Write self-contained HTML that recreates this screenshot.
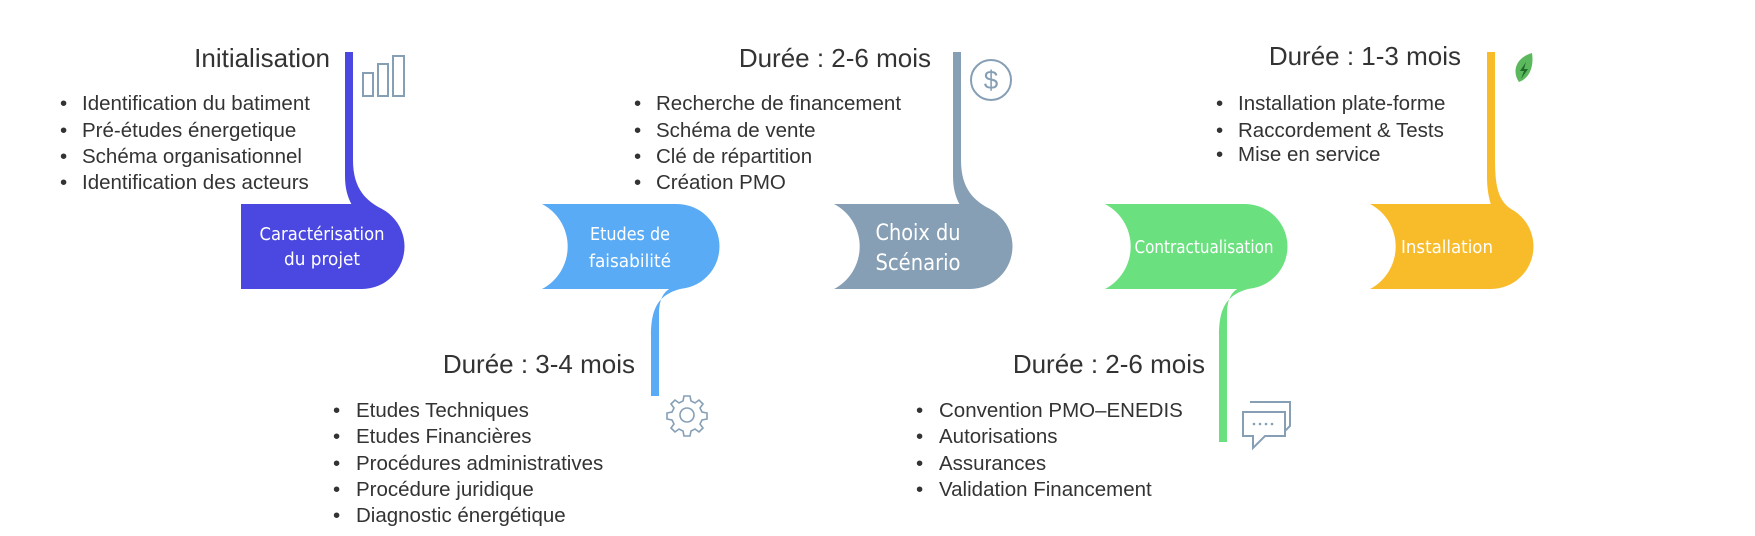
<!DOCTYPE html>
<html><head><meta charset="utf-8"><style>
html,body{margin:0;padding:0;background:#fff;}
svg{display:block;}
.t{font-family:"Liberation Sans",Arial,sans-serif;fill:#333;}
.h{font-size:26px;}
.b{font-size:20.5px;}
.c{font-family:"Liberation Sans Narrow","DejaVu Sans Condensed","Liberation Sans",sans-serif;fill:#fff;}
</style></head><body>
<svg width="1755" height="536" viewBox="0 0 1755 536" xmlns="http://www.w3.org/2000/svg">
<!-- connectors (filled flares) -->
<path transform="translate(349,0)" d="M-4,52 H4 V160 C4,190 18,201 33,209 L33,225 L20,225 C6,212 -4,200 -4,176 Z" fill="#4a48e0"/>
<path transform="translate(957,0)" d="M-4,52 H4 V160 C4,190 18,201 33,209 L33,225 L20,225 C6,212 -4,200 -4,176 Z" fill="#869fb5"/>
<path transform="translate(1491,0)" d="M-4,52 H4 V160 C4,188 8,201 20,209 L20,225 L10,225 C2,212 -4,200 -4,176 Z" fill="#f8bb2a"/>
<path transform="translate(655,0)" d="M-4,396 V336 C-4,305 5,292 34,287 L34,275 L16,275 L16,288 C8,292 4,300 4,314 V396 Z" fill="#5aabf5"/>
<path transform="translate(1223,0)" d="M-4,442 V336 C-4,305 5,292 34,287 L34,275 L16,275 L16,288 C8,292 4,300 4,314 V442 Z" fill="#6ae07e"/>
<!-- shapes -->
<path d="M241,204 H362 A42.5,42.5 0 0 1 362,289 H241 Z" fill="#4a48e0"/>
<path d="M542,204 H677 A42.5,42.5 0 0 1 677,289 H542 A48,48 0 0 0 542,204 Z" fill="#5aabf5"/>
<path d="M834,204 H970 A42.5,42.5 0 0 1 970,289 H834 A48,48 0 0 0 834,204 Z" fill="#869fb5"/>
<path d="M1105,204 H1245 A42.5,42.5 0 0 1 1245,289 H1105 A48,48 0 0 0 1105,204 Z" fill="#6ae07e"/>
<path d="M1370,204 H1491 A42.5,42.5 0 0 1 1491,289 H1370 A48,48 0 0 0 1370,204 Z" fill="#f8bb2a"/>
<!-- shape labels -->
<g class="c" text-anchor="middle">
<text x="322" y="240" font-size="18" textLength="125" lengthAdjust="spacingAndGlyphs">Caractérisation</text>
<text x="322" y="265" font-size="18" textLength="76" lengthAdjust="spacingAndGlyphs">du projet</text>
<text x="630" y="240" font-size="18" textLength="80" lengthAdjust="spacingAndGlyphs">Etudes de</text>
<text x="630" y="267" font-size="18" textLength="82" lengthAdjust="spacingAndGlyphs">faisabilité</text>
<text x="918" y="240" font-size="22" textLength="85" lengthAdjust="spacingAndGlyphs">Choix du</text>
<text x="918" y="270" font-size="22" textLength="85" lengthAdjust="spacingAndGlyphs">Scénario</text>
<text x="1204" y="253" font-size="18" textLength="139" lengthAdjust="spacingAndGlyphs">Contractualisation</text>
<text x="1447" y="253" font-size="18" textLength="92" lengthAdjust="spacingAndGlyphs">Installation</text>
</g>
<!-- titles -->
<g class="t h" text-anchor="end">
<text x="330" y="67">Initialisation</text>
<text x="931" y="67">Durée : 2-6 mois</text>
<text x="1461" y="65">Durée : 1-3 mois</text>
<text x="635" y="373">Durée : 3-4 mois</text>
<text x="1205" y="373">Durée : 2-6 mois</text>
</g>
<!-- bullets -->
<g class="t b">
<text x="60" y="110">•</text><text x="82" y="110">Identification du batiment</text>
<text x="60" y="137">•</text><text x="82" y="137">Pré-études énergetique</text>
<text x="60" y="163">•</text><text x="82" y="163">Schéma organisationnel</text>
<text x="60" y="189">•</text><text x="82" y="189">Identification des acteurs</text>

<text x="634" y="110">•</text><text x="656" y="110">Recherche de financement</text>
<text x="634" y="137">•</text><text x="656" y="137">Schéma de vente</text>
<text x="634" y="163">•</text><text x="656" y="163">Clé de répartition</text>
<text x="634" y="189">•</text><text x="656" y="189">Création PMO</text>

<text x="1216" y="110">•</text><text x="1238" y="110">Installation plate-forme</text>
<text x="1216" y="137">•</text><text x="1238" y="137">Raccordement &amp; Tests</text>
<text x="1216" y="161">•</text><text x="1238" y="161">Mise en service</text>

<text x="333" y="417">•</text><text x="356" y="417">Etudes Techniques</text>
<text x="333" y="443">•</text><text x="356" y="443">Etudes Financières</text>
<text x="333" y="470">•</text><text x="356" y="470">Procédures administratives</text>
<text x="333" y="496">•</text><text x="356" y="496">Procédure juridique</text>
<text x="333" y="522">•</text><text x="356" y="522">Diagnostic énergétique</text>

<text x="916" y="417">•</text><text x="939" y="417">Convention PMO–ENEDIS</text>
<text x="916" y="443">•</text><text x="939" y="443">Autorisations</text>
<text x="916" y="470">•</text><text x="939" y="470">Assurances</text>
<text x="916" y="496">•</text><text x="939" y="496">Validation Financement</text>
</g>
<!-- icons -->
<g fill="none" stroke="#869fb5" stroke-width="2">
<rect x="363" y="73" width="10" height="23"/>
<rect x="378" y="64" width="10" height="32"/>
<rect x="393" y="56" width="11" height="40"/>
<circle cx="991" cy="80" r="20"/>
<path d="M1250,402 h40 v24 l-8,8 v-8 h-2"/>
<path d="M1243,412 h42 v24 h-20 l-12,12 v-12 h-10 z" fill="#fff"/>
</g>
<text x="991" y="89" text-anchor="middle" font-family="Liberation Sans,sans-serif" font-size="26" fill="#869fb5">$</text>
<g fill="#869fb5"><circle cx="1254" cy="424" r="1.3"/><circle cx="1260" cy="424" r="1.3"/><circle cx="1266" cy="424" r="1.3"/><circle cx="1272" cy="424" r="1.3"/></g>
<!-- gear -->
<g transform="translate(687,415)" fill="none" stroke="#869fb5" stroke-width="1.6">
<path d="M-3,-19 h6 l1,5 l4,2 l4,-3 l4,4 l-3,4 l2,4 l5,1 v6 l-5,1 l-2,4 l3,4 l-4,4 l-4,-3 l-4,2 l-1,5 h-6 l-1,-5 l-4,-2 l-4,3 l-4,-4 l3,-4 l-2,-4 l-5,-1 v-6 l5,-1 l2,-4 l-3,-4 l4,-4 l4,3 l4,-2 z"/>
<circle r="7"/>
</g>
<!-- leaf -->
<path d="M1532,53 C1515,58 1512,72 1519,82 C1530,78 1534,66 1532,53 Z" fill="#5cb85c"/>
<path d="M1526,62 l-6,9 h4 l-3,8 l7,-10 h-4 z" fill="#1e6b2a"/>
</svg>
</body></html>
